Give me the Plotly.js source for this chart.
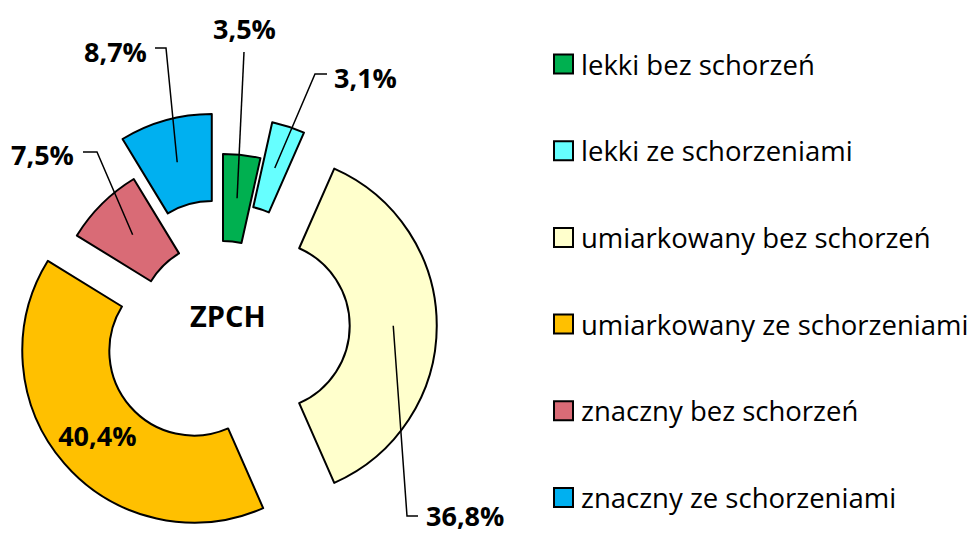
<!DOCTYPE html>
<html><head><meta charset="utf-8">
<script src="https://cdn.plot.ly/plotly-3.0.1.min.js"></script>
<style>html,body{margin:0;padding:0;overflow:hidden;background:#fff}#wrap{width:974px;height:534px;overflow:hidden}</style>
</head><body><div id="wrap"><div id="chart"></div></div>
<script>
const categories = ['lekki bez schorzeń','lekki ze schorzeniami','umiarkowany bez schorzeń','umiarkowany ze schorzeniami','znaczny bez schorzeń','znaczny ze schorzeniami'];
const values = [3.5, 3.1, 36.8, 40.4, 7.5, 8.7];
const colors = ['#00B050','#66FFFF','#FFFFCC','#FFC000','#D96B76','#00B0F0'];
const pulls = [0, 0.22, 0.245, 0.224, 0, 0.242];
const centerTitle = 'ZPCH';

// layout geometry (pixels)
const W = 974, H = 560;
const CX = 223, CY = 325.7, R = 171.7, HOLE = 0.493;
const FONT = 'Open Sans, sans-serif';

const maxPull = Math.max(...pulls);
const half = R * (1 + maxPull);
const domX = [(CX - half) / W, (CX + half) / W];
const domY = [(H - CY - half) / H, (H - CY + half) / H];

const px = x => x / W;
const py = y => 1 - y / H;

const total = values.reduce((a, b) => a + b, 0);
const fmt = v => v.toFixed(1).replace('.', ',') + '%';

// mid-ring point of each (pulled) slice, in pixels
let cum = 0;
const mids = values.map((v, i) => {
  const ang = (cum + v / 2) / total * 2 * Math.PI;
  cum += v;
  const rr = pulls[i] * R + R * (1 + HOLE) / 2;
  return [CX + rr * Math.sin(ang), CY - rr * Math.cos(ang)];
});

// label placement (pixels): leader-line elbows and text anchor
const labelLayout = [
  {pts: [[244, 52]], x: 244, y: 28, xa: 'center'},
  {pts: [[315, 74], [327, 74]], x: 333, y: 78, xa: 'left'},
  {pts: [[407, 516], [418, 516]], x: 425, y: 515, xa: 'left'},
  null,
  {pts: [[97, 152], [83, 152]], x: 75, y: 154, xa: 'right'},
  {pts: [[166, 48], [155, 48]], x: 148, y: 51, xa: 'right'}
];

const shapes = [];
const annotations = [];

labelLayout.forEach((L, i) => {
  if (!L) return;
  const all = [mids[i]].concat(L.pts);
  const path = all.map((p, k) => (k ? 'L' : 'M') + px(p[0]) + ',' + py(p[1])).join(' ');
  shapes.push({type: 'path', xref: 'paper', yref: 'paper', path, line: {color: '#000', width: 1.5}});
  annotations.push({xref: 'paper', yref: 'paper', x: px(L.x), y: py(L.y), xanchor: L.xa, yanchor: 'middle',
    showarrow: false, borderpad: 0, text: '<b>' + fmt(values[i]) + '</b>', font: {family: FONT, size: 27, color: '#000'}});
});

annotations.push({xref: 'paper', yref: 'paper', x: px(228), y: py(315), xanchor: 'center', yanchor: 'middle',
  showarrow: false, text: '<b>' + centerTitle + '</b>', font: {family: FONT, size: 29, color: '#000'}});

// custom legend
const legTop = 64, legStep = 86.7, sq = 19;
categories.forEach((c, i) => {
  const yc = legTop + i * legStep;
  shapes.push({type: 'rect', xref: 'paper', yref: 'paper', x0: px(554), x1: px(554 + sq), y0: py(yc - sq / 2), y1: py(yc + sq / 2),
    fillcolor: colors[i], line: {color: '#000', width: 2}});
  annotations.push({xref: 'paper', yref: 'paper', x: px(579), y: py(yc), xanchor: 'left', yanchor: 'middle',
    showarrow: false, text: c, font: {family: FONT, size: 27.5, color: '#000'}});
});

const trace = {
  type: 'pie', values: values, labels: categories,
  marker: {colors: colors, line: {color: '#000', width: 2}},
  hole: HOLE, pull: pulls, sort: false, direction: 'clockwise', rotation: 0,
  domain: {x: domX, y: domY},
  text: values.map(v => '<b>' + fmt(v) + '</b>'), textinfo: 'text',
  textposition: values.map((v, i) => labelLayout[i] ? 'none' : 'inside'),
  insidetextorientation: 'horizontal',
  insidetextfont: {family: FONT, size: 27, color: '#000'},
  hoverinfo: 'none', showlegend: false
};

Plotly.newPlot('chart', [trace], {
  width: W, height: H, margin: {l: 0, r: 0, t: 0, b: 0},
  paper_bgcolor: '#fff', showlegend: false,
  shapes: shapes, annotations: annotations
}, {staticPlot: true});
</script></body></html>
